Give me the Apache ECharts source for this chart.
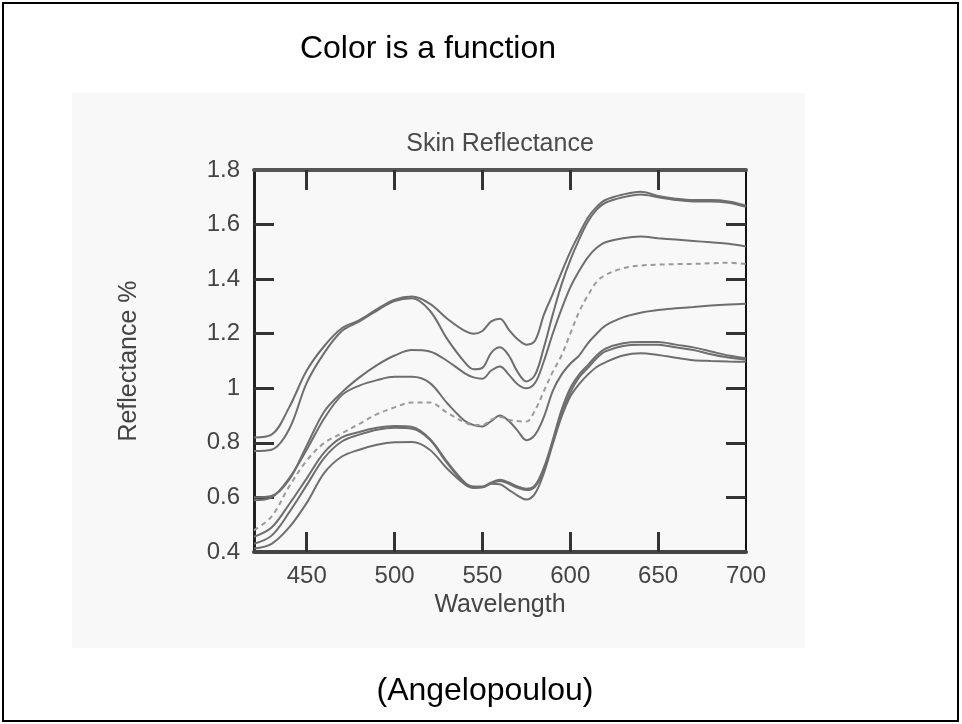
<!DOCTYPE html>
<html>
<head>
<meta charset="utf-8">
<script src="https://cdn.jsdelivr.net/npm/echarts@6/dist/echarts.min.js"></script>
<style>
  html, body { margin: 0; padding: 0; background: #fff; }
  #chart { width: 962px; height: 724px; }
</style>
</head>
<body>
<div id="chart"></div>
<script>
// wavelength samples (nm)
const wavelengths = [420, 430, 440, 450, 460, 470, 480, 490, 500, 510, 520, 530, 540, 545, 550, 555, 560, 565, 570, 575,
  580, 585, 590, 595, 600, 605, 610, 615, 620, 630, 640, 650, 660, 670, 680, 690, 700];

// reflectance curves
const skin1 = [0.82, 0.83, 0.93, 1.065, 1.155, 1.22, 1.25, 1.29, 1.325, 1.336, 1.31, 1.255, 1.21, 1.20, 1.21, 1.245, 1.255, 1.215, 1.18, 1.16,
  1.175, 1.27, 1.345, 1.425, 1.50, 1.565, 1.625, 1.665, 1.69, 1.71, 1.72, 1.705, 1.695, 1.69, 1.69, 1.685, 1.67];
const skin2 = [0.77, 0.775, 0.85, 1.02, 1.13, 1.21, 1.245, 1.285, 1.32, 1.33, 1.285, 1.18, 1.095, 1.07, 1.075, 1.13, 1.15, 1.12, 1.06, 1.025,
  1.05, 1.15, 1.27, 1.38, 1.47, 1.545, 1.61, 1.655, 1.68, 1.70, 1.71, 1.70, 1.69, 1.685, 1.685, 1.68, 1.665];
const skin3 = [0.60, 0.605, 0.665, 0.79, 0.915, 0.985, 1.04, 1.085, 1.12, 1.14, 1.135, 1.10, 1.055, 1.04, 1.035, 1.065, 1.08, 1.05, 1.015, 1.0,
  1.02, 1.10, 1.20, 1.29, 1.37, 1.43, 1.48, 1.515, 1.535, 1.55, 1.556, 1.55, 1.545, 1.54, 1.535, 1.53, 1.52];
const skin4 = [0.59, 0.60, 0.67, 0.775, 0.89, 0.975, 1.01, 1.03, 1.042, 1.042, 1.02, 0.945, 0.88, 0.865, 0.86, 0.88, 0.90, 0.88, 0.845, 0.81,
  0.83, 0.895, 0.99, 1.05, 1.09, 1.12, 1.165, 1.20, 1.23, 1.26, 1.277, 1.287, 1.293, 1.298, 1.303, 1.307, 1.31];
const skin5 = [0.48, 0.53, 0.64, 0.735, 0.80, 0.835, 0.87, 0.905, 0.93, 0.948, 0.948, 0.91, 0.875, 0.865, 0.865, 0.885, 0.895, 0.885, 0.88, 0.878,
  0.92, 0.99, 1.06, 1.12, 1.20, 1.28, 1.34, 1.39, 1.415, 1.44, 1.45, 1.453, 1.455, 1.456, 1.458, 1.46, 1.455];
const skin6 = [0.456, 0.49, 0.575, 0.67, 0.765, 0.82, 0.84, 0.855, 0.862, 0.858, 0.815, 0.73, 0.655, 0.64, 0.64, 0.655, 0.665, 0.655, 0.64, 0.632,
  0.645, 0.71, 0.81, 0.92, 1.0, 1.05, 1.085, 1.12, 1.145, 1.165, 1.17, 1.17, 1.16, 1.15, 1.135, 1.12, 1.11];
const skin7 = [0.43, 0.46, 0.545, 0.645, 0.745, 0.805, 0.83, 0.848, 0.855, 0.852, 0.812, 0.725, 0.652, 0.637, 0.637, 0.652, 0.66, 0.65, 0.635, 0.627,
  0.64, 0.70, 0.80, 0.905, 0.985, 1.04, 1.075, 1.11, 1.135, 1.155, 1.16, 1.16, 1.15, 1.14, 1.125, 1.113, 1.105];
const skin8 = [0.413, 0.43, 0.49, 0.58, 0.69, 0.75, 0.775, 0.793, 0.802, 0.803, 0.775, 0.705, 0.648, 0.635, 0.637, 0.65, 0.648, 0.628, 0.607, 0.592,
  0.615, 0.69, 0.795, 0.895, 0.97, 1.015, 1.05, 1.078, 1.095, 1.12, 1.128, 1.122, 1.112, 1.103, 1.10, 1.098, 1.097];

const curves = [skin1, skin2, skin3, skin4, skin5, skin6, skin7, skin8];
const dashedCurves = [skin5];

const xTicks = [450, 500, 550, 600, 650];
const xLabels = [450, 500, 550, 600, 650, 700];
const yTicks = [0.6, 0.8, 1, 1.2, 1.4, 1.6];
const yLabels = [0.4, 0.6, 0.8, 1, 1.2, 1.4, 1.6, 1.8];

const FONT = '"Liberation Sans", Arial, sans-serif';
const chart = echarts.init(document.getElementById('chart'));

const tick = (vals) => ({
  show: true, inside: true, length: 20, customValues: vals,
  lineStyle: { color: '#333', width: 3 }
});

chart.setOption({
  animation: false,
  backgroundColor: '#fff',
  graphic: [
    { type: 'rect', z: -10, shape: { x: 3, y: 3, width: 955, height: 718 },
      style: { fill: '#fff', stroke: '#000', lineWidth: 2 } },
    { type: 'rect', z: -9, shape: { x: 72, y: 93, width: 733, height: 555 },
      style: { fill: '#f8f8f8' } },
    { type: 'text', x: 428, y: 49, style: { text: 'Color is a function', font: '32px ' + FONT,
      fill: '#000', textAlign: 'center', textVerticalAlign: 'middle' } },
    { type: 'text', x: 485, y: 691, style: { text: '(Angelopoulou)', font: '32px ' + FONT,
      fill: '#000', textAlign: 'center', textVerticalAlign: 'middle' } },
    { type: 'text', x: 500, y: 144, style: { text: 'Skin Reflectance', font: '25px ' + FONT,
      fill: '#4a4a4a', textAlign: 'center', textVerticalAlign: 'middle' } }
  ],
  grid: { left: 254, top: 170, width: 492, height: 382, containLabel: false },
  xAxis: [
    {
      type: 'value', position: 'bottom', min: 420, max: 700,
      axisLine: { lineStyle: { color: '#444', width: 4 } },
      axisTick: tick(xTicks),
      axisLabel: { customValues: xLabels, fontSize: 24, fontFamily: FONT, color: '#444', margin: 12 },
      splitLine: { show: false },
      name: 'Wavelength', nameLocation: 'middle', nameGap: 40,
      nameTextStyle: { fontSize: 25, fontFamily: FONT, color: '#444' }
    },
    {
      type: 'value', position: 'top', min: 420, max: 700,
      axisLine: { lineStyle: { color: '#555', width: 4 } },
      axisTick: tick(xTicks),
      axisLabel: { show: false },
      splitLine: { show: false }
    }
  ],
  yAxis: [
    {
      type: 'value', position: 'left', min: 0.4, max: 1.8,
      axisLine: { show: true, lineStyle: { color: '#222', width: 3 } },
      axisTick: tick(yTicks),
      axisLabel: { customValues: yLabels, fontSize: 24, fontFamily: FONT, color: '#444', margin: 14 },
      splitLine: { show: false },
      name: 'Reflectance %', nameLocation: 'middle', nameGap: 112, nameRotate: 90,
      nameTextStyle: { fontSize: 25, fontFamily: FONT, color: '#444' }
    },
    {
      type: 'value', position: 'right', min: 0.4, max: 1.8,
      axisLine: { show: true, lineStyle: { color: '#111', width: 2 } },
      axisTick: tick(yTicks),
      axisLabel: { show: false },
      splitLine: { show: false }
    }
  ],
  series: curves.map((c, k) => {
    const dashed = dashedCurves.includes(c);
    return {
      type: 'line',
      xAxisIndex: 0,
      yAxisIndex: 0,
      smooth: 0.35,
      showSymbol: false,
      silent: true,
      data: wavelengths.map((w, i) => [w, c[i]]),
      lineStyle: dashed
        ? { color: '#9a9a9a', width: 2, type: [5, 4] }
        : { color: '#6e6e6e', width: 2 }
    };
  })
});
</script>
</body>
</html>
